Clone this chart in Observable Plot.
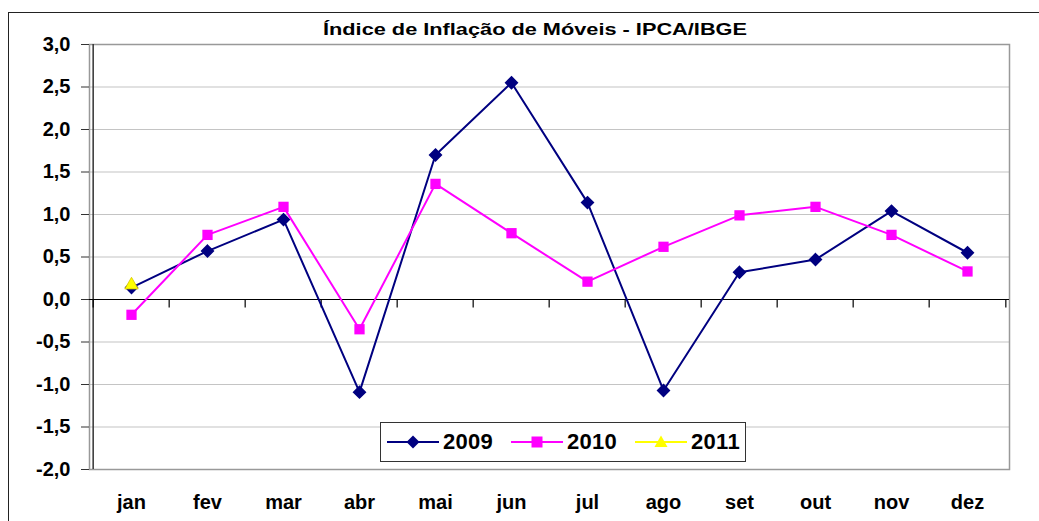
<!DOCTYPE html>
<html><head><meta charset="utf-8">
<script src="https://cdn.jsdelivr.net/npm/d3@7"></script>
<script src="https://cdn.jsdelivr.net/npm/@observablehq/plot@0.6"></script>
<style>
html,body{margin:0;padding:0;background:#fff;overflow:hidden;}
#wrap{position:relative;width:1039px;height:521px;font-family:"Liberation Sans",Arial,sans-serif;}
#border{position:absolute;left:8px;top:12px;width:1100px;height:600px;border:1.5px solid #222;box-sizing:border-box;}
#title{position:absolute;left:535px;top:20px;white-space:nowrap;font-weight:bold;font-size:17px;color:#000;transform-origin:0 0;}
#chart{position:absolute;left:0;top:0;}
#legend{position:absolute;left:380px;top:422px;width:366px;height:40px;border:1.5px solid #333;background:#fff;box-sizing:border-box;font-weight:bold;font-size:22px;}
#legend .it{position:absolute;top:0;height:37px;display:flex;align-items:center;}
#legend .it span{margin-left:4px;letter-spacing:0.3px;}
</style></head>
<body>
<div id="wrap">
  <div id="border"></div>
  <div id="chart"></div>
  <div id="title">Índice de Inflação de Móveis - IPCA/IBGE</div>
  <div id="legend"></div>
</div>
<script>
const months = ["jan","fev","mar","abr","mai","jun","jul","ago","set","out","nov","dez"];
const s2009 = [0.14,0.57,0.94,-1.09,1.70,2.55,1.14,-1.07,0.32,0.47,1.04,0.55];
const s2010 = [-0.18,0.76,1.09,-0.35,1.36,0.78,0.21,0.62,0.99,1.09,0.76,0.33];
const s2011 = [0.17];
const yTicks = [-2,-1.5,-1,-0.5,0,0.5,1,1.5,2,2.5,3];
const seriesNames = ["2009","2010","2011"];
const seriesColors = ["#000080","#FF00FF","#FFFF00"];
const seriesSymbols = ["diamond2","square","triangle"];

const W = 1039, H = 521, ML = 89, MR = 30, MT = 44, MB = 52;
const step = (W - ML - MR) / months.length;

const toRows = (vals, name) => vals.map((v, i) => ({month: months[i], value: v, series: name}));
const d09 = toRows(s2009, "2009");
const d10 = toRows(s2010, "2010");
const d11 = toRows(s2011, "2011");
const fmt = d => d3.format(".1f")(d).replace(".", ",").replace("\u2212", "-");

const chart = Plot.plot({
  width: W, height: H,
  marginLeft: ML, marginRight: MR, marginTop: MT, marginBottom: MB,
  x: {type: "point", domain: months, padding: 0.5, label: null},
  y: {domain: [-2, 3], label: null},
  style: {fontFamily: '"Liberation Sans", Arial, sans-serif', fontWeight: "bold", background: "transparent", color: "#000"},
  marks: [
    Plot.ruleY(yTicks, {stroke: "#c4c4c4", strokeWidth: 1.2}),
    Plot.frame({stroke: "#999", strokeWidth: 1.5}),
    Plot.ruleX([months[0]], {dx: -step / 2, stroke: "#333", strokeWidth: 1.5}),
    Plot.ruleY([0], {stroke: "#000", strokeWidth: 1.2}),
    Plot.ruleX(months, {x: d => d, y1: 0, y2: -0.1, dx: -step / 2, stroke: "#000", strokeWidth: 1.2}),
    Plot.ruleX([months[months.length - 1]], {y1: 0, y2: -0.1, dx: step / 2, stroke: "#000", strokeWidth: 1.2}),
    Plot.axisY({ticks: yTicks, tickSize: 8, tickPadding: 11, tickFormat: fmt, fontSize: 20, stroke: "#333", label: null}),
    Plot.axisX({tickSize: 0, tickPadding: 25, fontSize: 20, label: null}),
    Plot.line(d09, {x: "month", y: "value", stroke: seriesColors[0], strokeWidth: 2}),
    Plot.dot(d09, {x: "month", y: "value", symbol: seriesSymbols[0], r: 5.3, fill: seriesColors[0], stroke: seriesColors[0]}),
    Plot.line(d10, {x: "month", y: "value", stroke: seriesColors[1], strokeWidth: 2}),
    Plot.dot(d10, {x: "month", y: "value", symbol: seriesSymbols[1], r: 5.8, fill: seriesColors[1]}),
    Plot.dot(d11, {x: "month", y: "value", symbol: seriesSymbols[2], r: 5, fill: seriesColors[2], stroke: "#d4c400", strokeWidth: 0.8})
  ]
});
document.getElementById("chart").appendChild(chart);

// title: stretch horizontally to the reference width, centred at x=535
const t = document.getElementById("title");
const tw = t.getBoundingClientRect().width;
const target = 424;
t.style.left = (535 - target / 2) + "px";
t.style.transform = `scaleX(${target / tw})`;

// legend
const leg = document.getElementById("legend");
const symPath = {
  "diamond2": "M26,3.5 L32.5,10 L26,16.5 L19.5,10 Z",
  "square": "M20.5,4.5 H31.5 V15.5 H20.5 Z",
  "triangle": "M26,3.5 L32.5,15 L19.5,15 Z"
};
const legX = [6, 130, 254];
seriesNames.forEach((n, i) => {
  const it = document.createElement("div");
  it.className = "it";
  it.style.left = legX[i] + "px";
  it.innerHTML = `<svg width="52" height="20"><line x1="0" y1="10" x2="52" y2="10" stroke="${seriesColors[i]}" stroke-width="2"/><path d="${symPath[seriesSymbols[i]]}" fill="${seriesColors[i]}"/></svg><span>${n}</span>`;
  leg.appendChild(it);
});
</script>
</body></html>
